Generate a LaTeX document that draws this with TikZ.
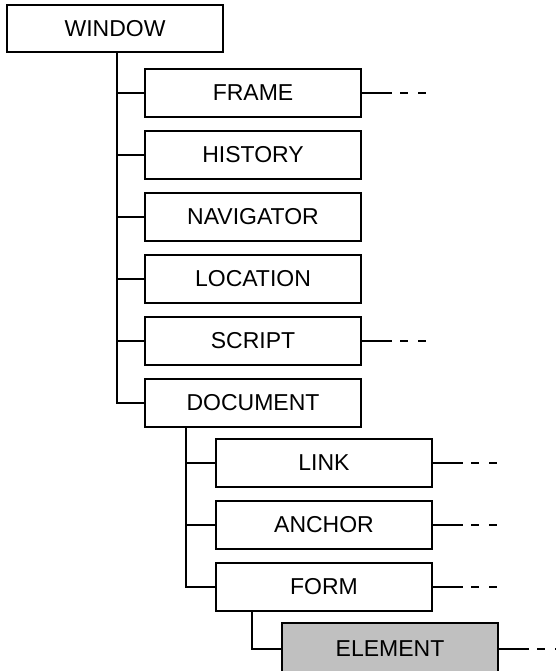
\documentclass[tikz,border=0pt]{standalone}
\usepackage{fontspec}
\setmainfont{Liberation Sans}
\usetikzlibrary{positioning,calc}
\definecolor{argent}{RGB}{192,192,192}

\begin{document}
\begin{tikzpicture}[x=1pt, y=-1pt, line width=2pt]
%boite : un objet de la hiérarchie, suite : trait puis pointillés
\tikzset{boite/.style={draw,minimum width=216pt,minimum height=48pt,inner sep=0pt,outer sep=0pt,font=\fontsize{23}{27}\selectfont},
suite/.style={dash pattern=on 31pt off 8pt on 8pt off 10pt on 8pt}}
\useasboundingbox (0,0) rectangle (556,671);
\node[boite,minimum height=47pt] (window) at (115,28.5) {WINDOW};
\node[boite] (frame) at (253,93) {FRAME};
\node[boite,below=14pt of frame] (history) {HISTORY};
\node[boite,below=14pt of history] (navigator) {NAVIGATOR};
\node[boite,below=14pt of navigator] (location) {LOCATION};
\node[boite,below=14pt of location] (script) {SCRIPT};
\node[boite,below=14pt of script] (document) {DOCUMENT};
\node[boite] (link) at (324,463) {LINK};
\node[boite,below=14pt of link] (anchor) {ANCHOR};
\node[boite,below=14pt of anchor] (form) {FORM};
\node[boite,fill=argent,minimum height=52pt] (element) at (390,649) {ELEMENT};
%troncs verticaux
\coordinate (t0) at ($(window.south west)+(110,0)$);
\coordinate (t1) at ($(document.south west)+(41,0)$);
\coordinate (t2) at ($(form.south west)+(36,0)$);
\foreach \n in {frame,history,navigator,location,script,document} \draw (t0) |- (\n.west);
\foreach \n in {link,anchor,form} \draw (t1) |- (\n.west);
\draw (t2) |- (element.west);
\foreach \n in {frame,script,link,anchor,form,element} \draw[suite] (\n.east) -- ++(65,0);
\end{tikzpicture}
\end{document}
